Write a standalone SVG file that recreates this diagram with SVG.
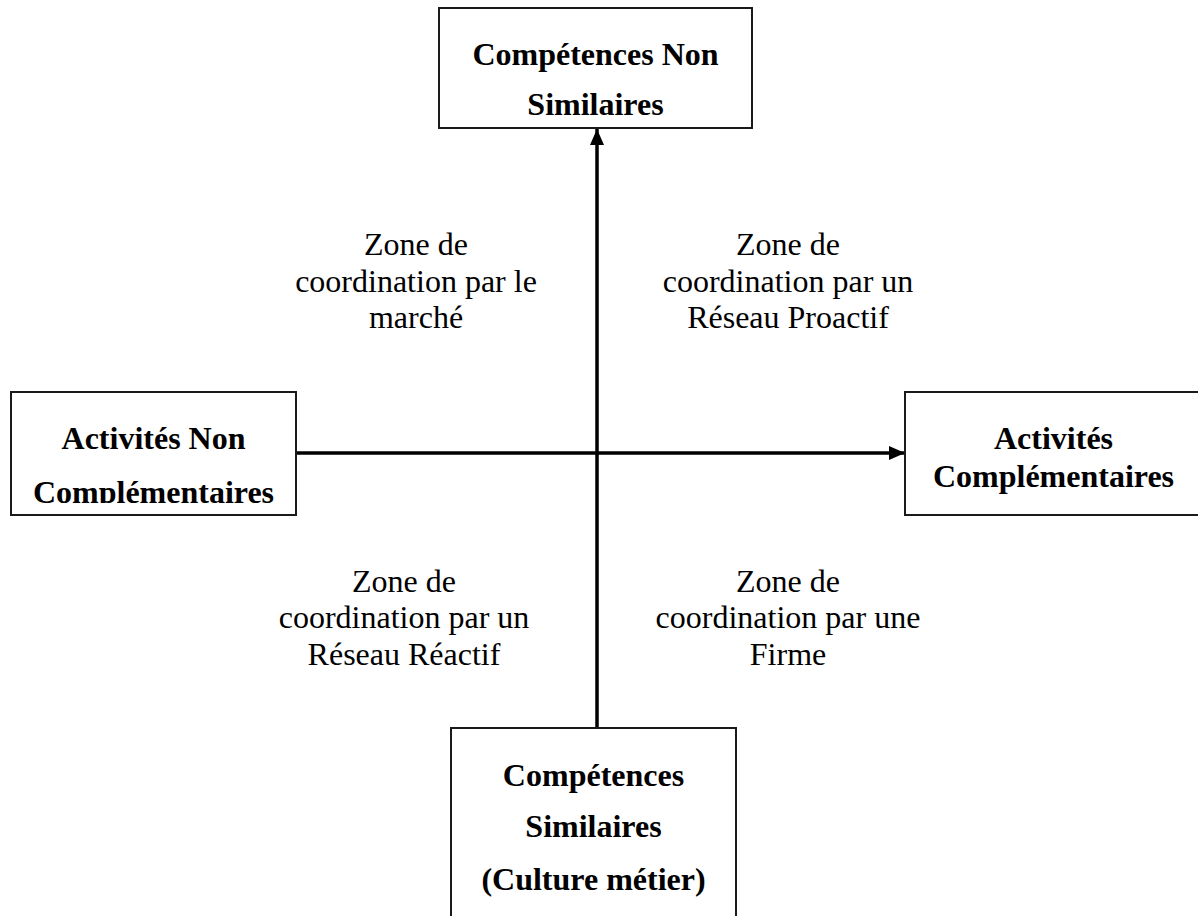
<svg xmlns="http://www.w3.org/2000/svg" width="1198" height="916" viewBox="0 0 1198 916">
<style>
.box{fill:#fff;stroke:#1a1a1a;stroke-width:2}
.bt{font-family:"Liberation Serif","Times New Roman",serif;font-weight:bold;font-size:32px;fill:#000;text-anchor:middle}
.lt{font-family:"Liberation Serif","Times New Roman",serif;font-size:32px;fill:#000;text-anchor:middle}
.ax{stroke:#000;stroke-width:3.5;fill:none}
</style>
<defs>
<marker id="ah" viewBox="0 0 16 14" refX="16" refY="7" markerWidth="16" markerHeight="14" markerUnits="userSpaceOnUse" orient="auto">
<path d="M0,0 L16,7 L0,14 Z" fill="#000"/>
</marker>
<clipPath id="clipL"><rect x="0" y="380" width="320" height="123"/></clipPath>
</defs>
<rect width="1198" height="916" fill="#fff"/>
<g id="connectors">
<line class="ax" x1="597" y1="728" x2="597" y2="129" marker-end="url(#ah)"/>
<line class="ax" x1="296" y1="453" x2="905" y2="453" marker-end="url(#ah)"/>
</g>
<g id="node-top">
<rect class="box" x="439" y="8" width="313" height="120"/>
<text class="bt" x="595.5" y="65">Compétences Non</text>
<text class="bt" x="595.5" y="115">Similaires</text>
</g>
<g id="node-left">
<rect class="box" x="11" y="392" width="285" height="123"/>
<g clip-path="url(#clipL)">
<text class="bt" x="153.5" y="449">Activités Non</text>
<text class="bt" x="153.5" y="503">Complémentaires</text>
</g>
</g>
<g id="node-right">
<rect class="box" x="905" y="392" width="310" height="123"/>
<text class="bt" x="1053.5" y="449">Activités</text>
<text class="bt" x="1053.5" y="487">Complémentaires</text>
</g>
<g id="node-bottom">
<rect class="box" x="451" y="728" width="285" height="200"/>
<text class="bt" x="593.5" y="786">Compétences</text>
<text class="bt" x="593.5" y="837">Similaires</text>
<text class="bt" x="593.5" y="890">(Culture métier)</text>
</g>
<g id="label-market">
<text class="lt" x="416" y="255">Zone de</text>
<text class="lt" x="416" y="292">coordination par le</text>
<text class="lt" x="416" y="328">marché</text>
</g>
<g id="label-proactive">
<text class="lt" x="788" y="255">Zone de</text>
<text class="lt" x="788" y="292">coordination par un</text>
<text class="lt" x="788" y="328">Réseau Proactif</text>
</g>
<g id="label-reactive">
<text class="lt" x="404" y="592">Zone de</text>
<text class="lt" x="404" y="628">coordination par un</text>
<text class="lt" x="404" y="665">Réseau Réactif</text>
</g>
<g id="label-firm">
<text class="lt" x="788" y="592">Zone de</text>
<text class="lt" x="788" y="628">coordination par une</text>
<text class="lt" x="788" y="665">Firme</text>
</g>
</svg>
